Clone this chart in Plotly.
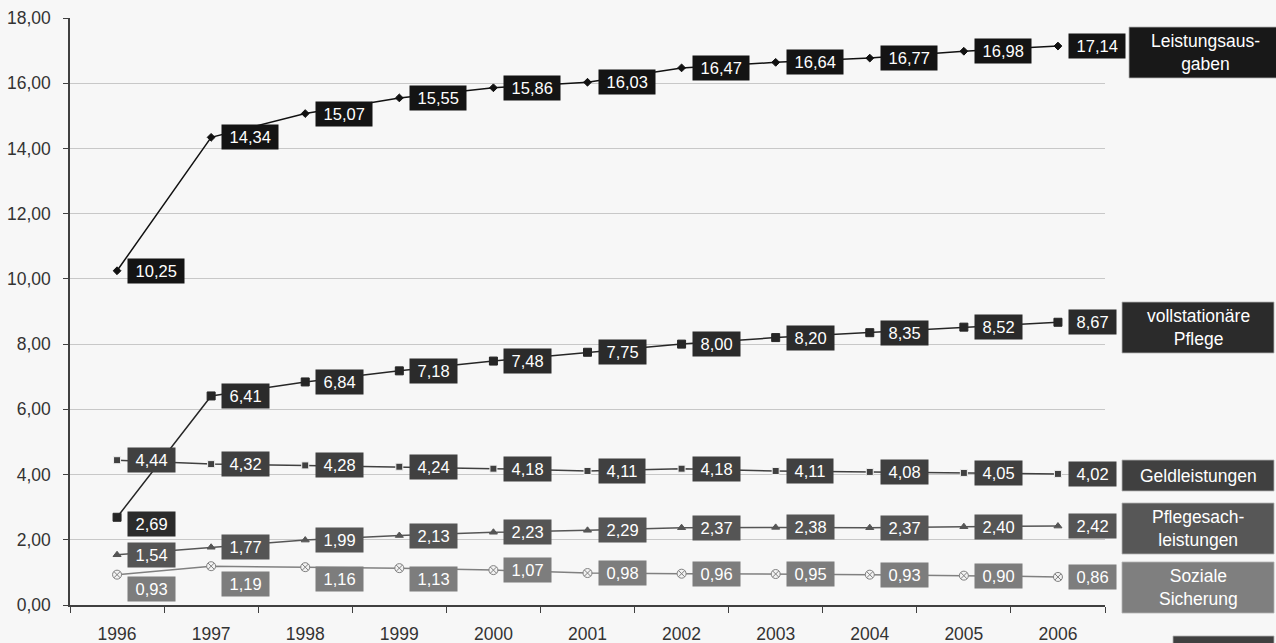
import plotly.graph_objects as go

years = ["1996", "1997", "1998", "1999", "2000", "2001", "2002", "2003", "2004", "2005", "2006"]
leistungsausgaben = [10.25, 14.34, 15.07, 15.55, 15.86, 16.03, 16.47, 16.64, 16.77, 16.98, 17.14]
vollstationaer = [2.69, 6.41, 6.84, 7.18, 7.48, 7.75, 8.00, 8.20, 8.35, 8.52, 8.67]
geldleistungen = [4.44, 4.32, 4.28, 4.24, 4.18, 4.11, 4.18, 4.11, 4.08, 4.05, 4.02]
pflegesach = [1.54, 1.77, 1.99, 2.13, 2.23, 2.29, 2.37, 2.38, 2.37, 2.40, 2.42]
soziale = [0.93, 1.19, 1.16, 1.13, 1.07, 0.98, 0.96, 0.95, 0.93, 0.90, 0.86]

FONT = "Liberation Sans, Arial, sans-serif"
BG = "#f7f7f7"

# plot-area pixel geometry (for fixed side boxes)
L, R, T, B = 70, 1105, 18, 605
W_, H_ = 1276, 643


def px(x):
    return (x - L) / (R - L)


def py(y):
    return (B - y) / (B - T)


series = [
    dict(name="Leistungsausgaben", y=leistungsausgaben, line="#111111", box="#141414",
         symbol="diamond", size=6, mcolor="#111111", mline="#111111",
         yshift=[0] * 11),
    dict(name="vollstationäre Pflege", y=vollstationaer, line="#262626", box="#2b2b2b",
         symbol="square", size=8, mcolor="#262626", mline="#262626",
         yshift=[-7, 0, 0, 0, 0, 0, 0, 0, 0, 0, 0]),
    dict(name="Geldleistungen", y=geldleistungen, line="#404040", box="#404040",
         symbol="square", size=7, mcolor="#404040", mline="#f0f0f0",
         yshift=[0] * 11),
    dict(name="Pflegesachleistungen", y=pflegesach, line="#555555", box="#555555",
         symbol="triangle-up", size=7, mcolor="#555555", mline="#555555",
         yshift=[0] * 11),
    dict(name="Soziale Sicherung", y=soziale, line="#808080", box="#7d7d7d",
         symbol="circle-x", size=9, mcolor="#f2f2f2", mline="#808080",
         yshift=[-14, -18, -12, -11, 0, 0, 0, 0, 0, 0, 0]),
]

fig = go.Figure()
annotations = []
for s in series:
    fig.add_trace(go.Scatter(
        x=years, y=s["y"], mode="lines+markers", name=s["name"],
        line=dict(color=s["line"], width=1.5),
        marker=dict(symbol=s["symbol"], size=s["size"], color=s["mcolor"],
                    line=dict(color=s["mline"], width=1)),
        showlegend=False,
    ))
for s in series:
    for i, v in enumerate(s["y"]):
        annotations.append(dict(
            x=i, y=v, xref="x", yref="y", showarrow=False,
            text="\u00a0" + f"{v:.2f}".replace(".", ",") + "\u00a0",
            font=dict(family=FONT, size=16.5, color="white"),
            bgcolor=s["box"], borderpad=3,
            xanchor="left", yanchor="middle", xshift=10, yshift=s["yshift"][i],
        ))

# side label boxes (pixel positions)
side = [
    ("Leistungsaus-<br>gaben", 1129, 1300, 27, 78, "#181818"),
    ("vollstationäre<br>Pflege", 1122, 1274, 302, 353, "#2b2b2b"),
    ("Geldleistungen", 1122, 1274, 460, 491, "#404040"),
    ("Pflegesach-<br>leistungen", 1122, 1274, 503, 554, "#575757"),
    ("Soziale<br>Sicherung", 1122, 1274, 562, 613, "#7f7f7f"),
    ("", 1173, 1274, 636, 660, "#404040"),
]
shapes = []
for text, x0, x1, y0, y1, col in side:
    shapes.append(dict(type="rect", xref="paper", yref="paper",
                       x0=px(x0), x1=px(x1), y0=py(y1), y1=py(y0),
                       fillcolor=col, line=dict(color="#b4b4b4", width=0.8), layer="above"))
    if text:
        cx = 1198 if x1 <= 1276 else 1205
        annotations.append(dict(
            x=px(cx), y=py((y0 + y1) / 2), xref="paper", yref="paper",
            showarrow=False, text=text, align="center",
            font=dict(family=FONT, size=17.5, color="white"),
            xanchor="center", yanchor="middle",
        ))

fig.update_layout(
    width=W_, height=H_,
    margin=dict(l=L, r=W_ - R, t=T, b=H_ - B),
    paper_bgcolor=BG, plot_bgcolor=BG,
    separators=",.",
    font=dict(family=FONT, size=17, color="#333333"),
    annotations=annotations, shapes=shapes,
    xaxis=dict(type="category", tickson="boundaries", ticks="outside", ticklen=6,
               tickcolor="#404040", showline=True, linecolor="#404040", linewidth=1.5,
               showgrid=False, tickfont=dict(size=17.5, color="#333333"),
               ticklabelstandoff=12, range=[-0.5, 10.5], automargin=False),
    yaxis=dict(range=[0, 18], tick0=0, dtick=2, tickformat=".2f", ticks="outside",
               ticklen=5, tickcolor="#404040", showline=True, linecolor="#404040",
               linewidth=1.5, showgrid=True, gridcolor="#c8c8c8", gridwidth=1,
               zeroline=False, tickfont=dict(size=17.5, color="#333333"),
               ticklabelstandoff=9, automargin=False),
)

fig.write_html("out.html")
